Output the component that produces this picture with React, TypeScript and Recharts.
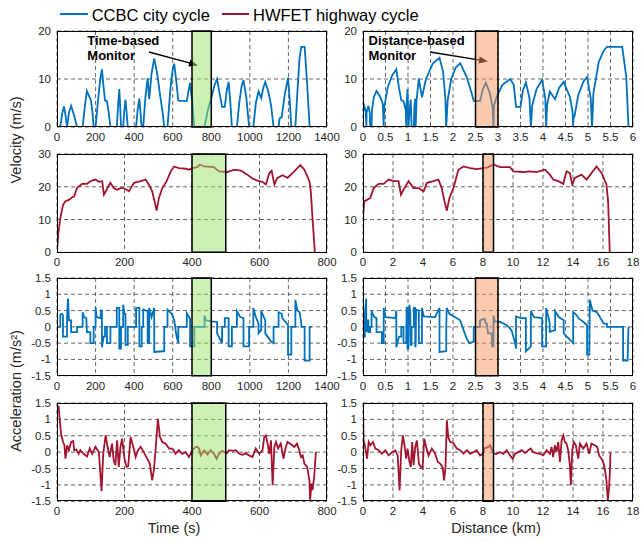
import { LineChart, Line, XAxis, YAxis, CartesianGrid, ReferenceArea } from 'recharts'

const BLUE = '#0072BD'
const RED = '#A2142F'
const FONT = '"Liberation Sans", Arial, Helvetica, sans-serif'

// CCBC city cycle, velocity vs time
const ccbcTime = [0, 17, 27, 36, 44, 52, 62, 73, 88, 104, 133, 145, 155, 166, 176, 184, 190, 200, 215, 226, 233, 241, 249, 259, 268, 277, 310, 317, 323, 328, 332, 343, 349, 355, 361, 367, 410, 418, 427, 433, 439, 447, 458, 470, 478, 490, 504, 520, 535, 548, 556, 573, 588, 600, 608, 620, 629, 673, 682, 690, 701, 712, 765, 772, 782, 800, 815, 830, 843, 856, 870, 880, 890, 899, 907, 933, 945, 957, 967, 982, 996, 1018, 1031, 1045, 1059, 1070, 1080, 1095, 1110, 1123, 1149, 1154, 1165, 1180, 1198, 1207, 1215, 1236, 1246, 1258, 1267, 1284, 1297, 1310, 1320]
const ccbcSpeed = [0, 0, 2.8, 4.3, 2.5, 0, 3, 4.4, 2.5, 0, 0, 4.5, 7.5, 6.5, 5.6, 3, 0, 0, 6.5, 10.5, 12, 8.5, 5.5, 5.4, 3, 0, 0, 4.5, 7.9, 4, 0, 0, 3.5, 5.7, 3, 0, 0, 3.5, 5.9, 3, 0, 0, 6, 10.2, 5.8, 11, 14.3, 11, 6.5, 3, 0, 0, 8, 12, 13.2, 9, 5.5, 5.4, 7.5, 9.2, 5.5, 0, 0, 1.5, 3.5, 6, 8.5, 10, 7, 4.2, 4.2, 7.5, 9.4, 5, 0, 0, 5, 8.5, 9.8, 6, 0, 0, 5, 7.4, 6, 8.2, 9.4, 7.5, 4.5, 0, 0, 1.8, 2, 6.5, 10.3, 5.5, 0, 0, 7, 14.5, 16.7, 16.7, 9, 0, 0]

// CCBC city cycle, velocity vs distance
const ccbcDist = [0, 0.005, 0.03, 0.06, 0.075, 0.08, 0.12, 0.15, 0.16, 0.19, 0.2, 0.24, 0.3, 0.38, 0.44, 0.46, 0.47, 0.55, 0.65, 0.74, 0.8, 0.85, 0.9, 0.95, 0.96, 0.97, 0.99, 1.0, 1.01, 1.04, 1.06, 1.07, 1.08, 1.13, 1.14, 1.16, 1.17, 1.19, 1.24, 1.31, 1.4, 1.55, 1.7, 1.78, 1.83, 1.85, 1.88, 1.96, 2.06, 2.16, 2.3, 2.4, 2.46, 2.6, 2.67, 2.73, 2.82, 2.88, 2.9, 2.91, 2.98, 3.1, 3.27, 3.35, 3.4, 3.5, 3.55, 3.62, 3.7, 3.73, 3.76, 3.86, 3.98, 4.05, 4.07, 4.09, 4.15, 4.27, 4.36, 4.46, 4.6, 4.66, 4.67, 4.675, 4.7, 4.78, 4.9, 4.98, 5.06, 5.09, 5.12, 5.24, 5.35, 5.42, 5.76, 5.85, 5.9]
const ccbcDistSpeed = [0, 3.2, 4.3, 3.4, 0, 3, 4.4, 3, 0, 0, 3.5, 6.2, 7.5, 6.3, 4.8, 0, 4, 8.3, 10.8, 12, 8.2, 5.6, 5.4, 3.5, 0, 5, 7.9, 4, 0, 4, 5.7, 3, 0, 0, 4, 5.9, 0, 5.5, 10.1, 6.2, 10, 13.2, 14.4, 11.5, 6, 0, 5.5, 10, 12.4, 13.3, 10.5, 7.5, 5.5, 5.4, 8, 9.2, 7, 4, 0, 4.5, 6.5, 8.8, 10, 8.8, 4.2, 4.2, 7.5, 9.3, 6, 0, 4.5, 8, 9.8, 6, 0, 4.5, 7.4, 5.8, 8.2, 9.4, 6.2, 3, 0, 1.8, 2.2, 6.5, 9.5, 10.4, 6, 0, 7, 13.6, 15.9, 16.7, 16.7, 10.5, 0]

// HWFET highway cycle, velocity vs time
const hwyTime = [0, 4, 10, 18, 25, 35, 45, 51, 59, 74, 89, 99, 114, 124, 134, 139, 147, 158, 168, 178, 188, 198, 213, 228, 248, 262, 272, 282, 289, 295, 302, 312, 325, 337, 347, 361, 381, 391, 401, 416, 423, 436, 465, 480, 505, 525, 545, 564, 579, 594, 609, 619, 629, 636, 644, 653, 668, 683, 703, 721, 733, 748, 752, 757, 764]
const hwySpeed = [0, 6, 10.5, 14.5, 15.6, 16, 16.8, 17, 19.6, 20.9, 20.9, 21.7, 22.2, 21.5, 21.7, 17.6, 19.1, 21.2, 19.6, 19.1, 19.6, 19.6, 18.6, 21.2, 21.7, 22.2, 20.7, 18.6, 15.6, 12.7, 16.6, 19.6, 21.7, 24.7, 26.2, 25.7, 25.5, 25.2, 25.7, 26, 26.8, 26.2, 26, 24.7, 24.5, 25.2, 24.9, 23.7, 22.5, 21.9, 21.5, 20.7, 24.2, 24.9, 20.7, 22.7, 23.5, 22.7, 24.7, 26.6, 25.2, 21.7, 18.6, 10.5, 0]

// HWFET highway cycle, velocity vs distance
const hwyDist = [0, 0.02, 0.09, 0.27, 0.49, 0.71, 1.04, 1.37, 1.71, 2.04, 2.37, 2.53, 2.7, 3.04, 3.37, 3.7, 4.04, 4.26, 4.7, 5.03, 5.25, 5.41, 5.59, 5.76, 6.03, 6.36, 6.7, 7.14, 7.58, 8.03, 8.36, 8.69, 9.14, 9.8, 10.02, 10.69, 11.13, 11.57, 12.13, 12.46, 12.68, 13.02, 13.35, 13.57, 13.79, 13.95, 14.12, 14.57, 14.9, 15.57, 15.9, 16.23, 16.34, 16.45]
const hwyDistSpeed = [0, 12, 15.6, 16, 16.6, 19.6, 20.9, 20.9, 22.2, 21.7, 21.7, 17.6, 19.1, 21.7, 19.6, 19.6, 18.6, 21.2, 21.7, 22.2, 19.6, 16, 12.7, 16.6, 19.6, 25.2, 26.2, 25.7, 25.4, 25.7, 26, 26.8, 26, 26, 24.7, 24.5, 24.7, 24.5, 25.2, 23.7, 22.2, 21.7, 20.9, 24.7, 24.2, 20.7, 22.7, 23.7, 22.2, 26.2, 24.2, 20.7, 15.6, 0]

// CCBC acceleration vs time
const ccbcAccTime = [0, 17, 17, 26, 31, 31, 52, 52, 57, 62, 73, 73, 104, 104, 133, 133, 140, 152, 155, 173, 173, 190, 190, 200, 200, 205, 225, 228, 233, 233, 242, 249, 249, 259, 259, 277, 277, 310, 310, 323, 323, 332, 332, 343, 343, 350, 355, 355, 367, 367, 410, 410, 427, 427, 439, 439, 447, 447, 462, 470, 470, 478, 478, 490, 504, 504, 548, 556, 556, 573, 573, 595, 608, 620, 629, 629, 673, 673, 690, 690, 712, 712, 765, 765, 772, 800, 830, 830, 856, 856, 870, 870, 890, 890, 907, 907, 933, 933, 950, 967, 967, 996, 996, 1018, 1018, 1031, 1045, 1045, 1059, 1059, 1080, 1080, 1110, 1123, 1123, 1149, 1149, 1165, 1170, 1185, 1198, 1198, 1215, 1215, 1236, 1236, 1246, 1258, 1267, 1267, 1284, 1284, 1310, 1310, 1320]
const ccbcAcc = [0, 0, 0.38, 0.4, 0.35, -0.3, -0.3, 0.3, 0.87, 0.2, 0.2, -0.16, -0.16, 0, 0, 0.45, 0.3, 0.27, -0.16, -0.16, -0.5, -0.5, 0, 0, 0.6, 0.3, 0.27, 0.5, 0.5, -0.63, -0.3, -0.3, 0, 0, -0.5, -0.5, 0, 0, 0.58, 0.58, -0.67, -0.67, 0, 0, 0.68, 0.4, 0.4, -0.55, -0.55, 0, 0, 0.58, 0.58, -0.6, -0.6, 0, 0, 0.53, 0.5, 0.5, -0.5, -0.5, 0.58, 0.3, 0.58, -0.77, -0.75, -0.75, 0, 0, 0.53, 0.4, 0.2, -0.3, -0.5, 0, 0, 0.42, 0.25, -0.6, -0.6, 0, 0, 0.35, 0.2, 0.17, 0.15, -0.2, -0.5, 0, 0, 0.27, 0.27, -0.6, -0.6, 0, 0, 0.48, 0.3, 0.27, -0.6, -0.6, 0, 0, 0.58, 0.3, 0.1, -0.2, -0.1, 0.48, 0.2, -0.2, -0.45, -0.5, 0, 0, 0.45, 0.4, 0.25, 0.15, 0.05, -0.85, -0.85, 0, 0, 0.83, 0.5, 0.45, 0.1, 0, 0, -1.04, -1.04, 0, 0]

// CCBC acceleration vs distance
const ccbcAccDist = [0, 0.01, 0.01, 0.04, 0.04, 0.07, 0.075, 0.1, 0.12, 0.12, 0.16, 0.16, 0.19, 0.19, 0.25, 0.3, 0.3, 0.42, 0.42, 0.46, 0.46, 0.5, 0.72, 0.74, 0.74, 0.8, 0.85, 0.85, 0.9, 0.9, 0.96, 0.97, 0.99, 0.99, 1.01, 1.01, 1.03, 1.05, 1.06, 1.08, 1.08, 1.13, 1.13, 1.16, 1.16, 1.17, 1.18, 1.24, 1.24, 1.31, 1.31, 1.35, 1.6, 1.7, 1.7, 1.85, 1.85, 1.86, 1.92, 2.16, 2.3, 2.36, 2.46, 2.46, 2.6, 2.6, 2.7, 2.73, 2.75, 2.78, 2.86, 2.87, 2.9, 2.9, 2.93, 3.05, 3.2, 3.3, 3.38, 3.4, 3.4, 3.5, 3.62, 3.62, 3.73, 3.73, 3.8, 3.98, 3.98, 4.07, 4.07, 4.12, 4.15, 4.15, 4.27, 4.27, 4.35, 4.46, 4.46, 4.6, 4.67, 4.67, 4.72, 4.8, 4.9, 4.98, 4.98, 5.03, 5.04, 5.1, 5.2, 5.35, 5.42, 5.42, 5.78, 5.78, 5.88, 5.9]
const ccbcAccD = [0.37, 0.37, -0.3, -0.3, 0.3, 0.87, -0.16, 0.2, 0.2, -0.16, -0.16, 0, 0, 0.48, 0.3, 0.27, -0.16, -0.16, -0.5, -0.5, 0.58, 0.3, 0.27, 0.5, -0.63, -0.3, -0.3, 0, 0, -0.5, -0.5, 0.58, 0.58, -0.67, -0.67, 0, 0.68, 0.45, -0.55, -0.55, 0, 0, 0.58, 0.58, -0.6, -0.6, 0.53, 0.5, -0.5, -0.5, 0.58, 0.32, 0.3, 0.58, -0.77, -0.75, 0, 0.58, 0.4, 0.2, -0.35, -0.5, -0.45, 0, 0, 0.2, 0.25, 0.1, 0.1, -0.2, -0.2, -0.6, -0.6, 0.35, 0.17, 0.15, 0.05, -0.1, -0.5, -0.67, 0.32, 0.27, 0.27, -0.75, -0.6, 0.48, 0.3, 0.27, -0.6, -0.6, 0.58, 0.3, 0.1, -0.15, -0.1, 0.48, 0.3, 0.2, -0.2, -0.4, -0.5, 0.45, 0.4, 0.25, 0.15, 0.05, -0.85, -0.85, 0.83, 0.5, 0.45, 0.1, 0.1, 0, 0, -1.04, -1.04, 0]

// HWFET acceleration vs time
const hwyAccTime = [0, 5, 8, 12, 18, 22, 25, 30, 35, 42, 48, 51, 57, 64, 69, 79, 89, 97, 104, 114, 124, 132, 137, 144, 149, 156, 163, 168, 173, 178, 183, 188, 193, 200, 206, 211, 218, 226, 233, 240, 248, 257, 267, 275, 282, 287, 292, 299, 305, 312, 322, 332, 342, 351, 361, 371, 381, 391, 401, 411, 416, 421, 426, 436, 446, 455, 465, 473, 480, 490, 503, 510, 520, 530, 540, 550, 559, 569, 579, 589, 599, 609, 614, 619, 624, 629, 634, 639, 644, 649, 655, 663, 671, 678, 683, 693, 703, 711, 718, 723, 728, 733, 741, 748, 750, 754, 757, 762, 767]
const hwyAcc = [1.43, 1.38, 1.02, 0.56, 0.31, 0.21, -0.2, 0.21, 0.06, 0.31, 0.34, 0.06, 0.08, -0.05, 0.06, -0.05, -0.13, 0.11, -0.05, 0.16, 0, -1.19, -0.05, 0.51, 0.21, -0.15, 0.26, -0.25, -0.4, 0.36, -0.45, 0.16, 0.41, -0.2, -0.45, -0.43, 0.46, 0.16, -0.15, 0.06, 0.16, 0, -0.2, -0.35, -0.86, -0.55, 0.06, 1.02, 0.46, 0.31, 0.26, 0.11, 0.11, -0.05, 0.06, -0.05, 0, -0.15, 0.06, 0.16, 0.16, 0.11, -0.1, 0.06, -0.07, 0.06, -0.05, -0.2, -0.05, 0.04, -0.03, 0.06, 0.04, 0.06, -0.05, -0.08, -0.03, -0.1, -0.15, 0.11, -0.05, 0.06, 0.46, 0.51, 0.26, -0.05, 0.36, -1.01, 0.16, 0.31, 0.11, 0.26, -0.2, 0.16, 0.31, 0.24, 0.16, 0.26, 0.06, -0.15, -0.1, -0.35, -0.45, -0.86, -1.47, -0.96, -1.16, -0.76, 0]

// HWFET acceleration vs distance
const hwyAccDist = [0, 0.04, 0.1, 0.18, 0.27, 0.38, 0.49, 0.67, 0.82, 1.04, 1.26, 1.49, 1.71, 1.93, 2.15, 2.31, 2.44, 2.55, 2.66, 2.77, 2.88, 2.97, 3.1, 3.19, 3.28, 3.37, 3.48, 3.59, 3.73, 3.86, 3.97, 4.08, 4.21, 4.37, 4.59, 4.81, 4.99, 5.14, 5.3, 5.41, 5.5, 5.59, 5.68, 5.81, 6.03, 6.25, 6.47, 6.7, 6.92, 7.14, 7.36, 7.58, 7.8, 7.98, 8.1, 8.36, 8.47, 8.6, 8.74, 8.91, 9.14, 9.36, 9.58, 9.8, 9.98, 10.13, 10.35, 10.58, 10.8, 11.02, 11.18, 11.35, 11.57, 11.8, 12.02, 12.24, 12.46, 12.57, 12.68, 12.79, 12.9, 13.02, 13.13, 13.24, 13.35, 13.46, 13.57, 13.68, 13.79, 13.86, 13.95, 14.06, 14.19, 14.35, 14.46, 14.68, 14.9, 15.08, 15.23, 15.45, 15.61, 15.74, 15.9, 16.01, 16.12, 16.23, 16.32, 16.41, 16.47, 16.5]
const hwyAccD = [1.43, 0.36, 0.26, 0.06, -0.2, 0.31, 0.21, 0.31, 0.11, 0.06, -0.05, 0.06, -0.1, 0, 0.06, -0.1, -1.17, 0.06, 0.51, 0.21, -0.2, 0.11, -0.3, -0.45, 0.31, -0.4, 0.16, 0.36, -0.35, -0.45, -0.5, 0.41, 0.16, -0.1, 0.11, -0.05, -0.3, -0.35, -0.45, -0.86, -0.45, 0.97, 0.46, 0.31, 0.28, 0.11, 0.06, -0.05, 0.06, -0.05, 0, 0.06, -0.1, -0.05, 0.11, 0.16, 0.21, 0.06, -0.05, -0.05, 0, -0.05, 0.06, -0.1, -0.2, -0.05, 0, 0.06, -0.03, 0.06, 0.11, 0, -0.03, -0.05, -0.1, 0.06, -0.05, 0.16, -0.15, 0.21, 0, 0.31, -0.3, 0.36, 0.51, 0.31, 0.26, 0.06, -0.4, -1.01, 0.06, 0.31, 0.21, -0.2, 0.26, 0.11, 0.26, -0.05, 0.26, 0.21, 0.16, -0.1, -0.2, -0.3, -0.5, -0.86, -1.47, -1.06, -0.5, 0]

// axes
const cityTimeTicks = [0, 200, 400, 600, 800, 1000, 1200, 1400]
const hwyTimeTicks = [0, 200, 400, 600, 800]
const cityDistTicks = [0, 0.5, 1, 1.5, 2, 2.5, 3, 3.5, 4, 4.5, 5, 5.5, 6]
const hwyDistTicks = [0, 2, 4, 6, 8, 10, 12, 14, 16, 18]
const citySpeedTicks = [0, 10, 20]
const hwySpeedTicks = [0, 10, 20, 30]
const accTicks = [-1.5, -1, -0.5, 0, 0.5, 1, 1.5]

// monitor windows
const timeWindowCity = [700, 800]
const timeWindowHwy = [400, 500]
const distWindowCity = [2.5, 3]
const distWindowHwy = [8, 8.7]

const zip = (xs: number[], ys: number[]) => xs.map((x, i) => ({ x, y: ys[i] }))

const LEFT_X = 56.5
const RIGHT_X = 362.7
const PLOT_W = 270
const rows = [
  { top: 30.7, h: 96 },
  { top: 154.4, h: 98.3 },
  { top: 278.3, h: 97.7 },
  { top: 402.7, h: 98.3 },
]

const tickStyle = { fontSize: 11.5, fill: '#262626', fontFamily: FONT }

function Panel({ left, row, data, color, xTicks, yTicks, band, bandFill }: any) {
  const YW = 40
  const { top, h } = rows[row]
  const xMax = xTicks[xTicks.length - 1]
  const yMin = yTicks[0]
  const yMax = yTicks[yTicks.length - 1]
  return (
    <div style={{ position: 'absolute', left: left - YW, top: top - 5 }}>
      <LineChart width={YW + PLOT_W + 14} height={5 + h + 22} data={data} margin={{ top: 5, right: 14, bottom: 0, left: 0 }}>
        <CartesianGrid stroke="#555" strokeDasharray="4 3" strokeWidth={0.9} />
        <XAxis dataKey="x" type="number" domain={[0, xMax]} ticks={xTicks} interval={0} height={22}
          tickSize={4} tickMargin={2} tickLine={false} axisLine={false} tick={tickStyle} allowDataOverflow />
        <YAxis type="number" domain={[yMin, yMax]} ticks={yTicks} interval={0} width={YW}
          tickSize={4} tickMargin={2} tickLine={false} axisLine={false} tick={tickStyle} allowDataOverflow />
        <Line dataKey="y" type="linear" stroke={color} strokeWidth={1.8} dot={false} isAnimationActive={false} />
        <ReferenceArea x1={band[0]} x2={band[1]} y1={yMin} y2={yMax} fill={bandFill} fillOpacity={0.5}
          stroke="#000" strokeWidth={1.5} zIndex={900} />
      </LineChart>
      <div style={{ position: 'absolute', left: YW, top: 5, width: PLOT_W, height: h, border: '1px solid #000', boxSizing: 'border-box', pointerEvents: 'none' }} />
    </div>
  )
}

function arrowHead(x1: number, y1: number, x2: number, y2: number) {
  const dx = x2 - x1
  const dy = y2 - y1
  const len = Math.hypot(dx, dy)
  const ux = dx / len
  const uy = dy / len
  const bx = x2 - ux * 9
  const by = y2 - uy * 9
  return `${x2},${y2} ${bx - uy * 3.5},${by + ux * 3.5} ${bx + uy * 3.5},${by - ux * 3.5}`
}

const GREEN = '#9be36a'
const ORANGE = '#f99560'

export default function App() {
  return (
    <div style={{ position: 'absolute', left: 0, top: 0, width: 641, height: 542, background: '#fff', fontFamily: FONT }}>
      <svg width={641} height={542} style={{ position: 'absolute', left: 0, top: 0 }}>
        <line x1={149} y1={52} x2={192} y2={63.6} stroke="#000" strokeWidth={1.3} />
        <polygon points={arrowHead(149, 52, 198, 65.5)} fill="#000" />
        <line x1={430} y1={52} x2={480} y2={60.2} stroke="#000" strokeWidth={1.3} />
        <polygon points={arrowHead(430, 52, 488, 61.5)} fill="#000" />
      </svg>

      <Panel left={LEFT_X} row={0} data={zip(ccbcTime, ccbcSpeed)} color={BLUE} xTicks={cityTimeTicks} yTicks={citySpeedTicks} band={timeWindowCity} bandFill={GREEN} />
      <Panel left={RIGHT_X} row={0} data={zip(ccbcDist, ccbcDistSpeed)} color={BLUE} xTicks={cityDistTicks} yTicks={citySpeedTicks} band={distWindowCity} bandFill={ORANGE} />
      <Panel left={LEFT_X} row={1} data={zip(hwyTime, hwySpeed)} color={RED} xTicks={hwyTimeTicks} yTicks={hwySpeedTicks} band={timeWindowHwy} bandFill={GREEN} />
      <Panel left={RIGHT_X} row={1} data={zip(hwyDist, hwyDistSpeed)} color={RED} xTicks={hwyDistTicks} yTicks={hwySpeedTicks} band={distWindowHwy} bandFill={ORANGE} />
      <Panel left={LEFT_X} row={2} data={zip(ccbcAccTime, ccbcAcc)} color={BLUE} xTicks={cityTimeTicks} yTicks={accTicks} band={timeWindowCity} bandFill={GREEN} />
      <Panel left={RIGHT_X} row={2} data={zip(ccbcAccDist, ccbcAccD)} color={BLUE} xTicks={cityDistTicks} yTicks={accTicks} band={distWindowCity} bandFill={ORANGE} />
      <Panel left={LEFT_X} row={3} data={zip(hwyAccTime, hwyAcc)} color={RED} xTicks={hwyTimeTicks} yTicks={accTicks} band={timeWindowHwy} bandFill={GREEN} />
      <Panel left={RIGHT_X} row={3} data={zip(hwyAccDist, hwyAccD)} color={RED} xTicks={hwyDistTicks} yTicks={accTicks} band={distWindowHwy} bandFill={ORANGE} />

      <svg width={641} height={542} style={{ position: 'absolute', left: 0, top: 0, pointerEvents: 'none' }} fontFamily={FONT}>
        {/* legend */}
        <line x1={60} y1={14} x2={88} y2={14} stroke={BLUE} strokeWidth={2} />
        <text x={91.7} y={20.5} fontSize={16.5} fill="#000">CCBC city cycle</text>
        <line x1={222} y1={14} x2={249} y2={14} stroke={RED} strokeWidth={2} />
        <text x={253} y={20.5} fontSize={16.5} fill="#000">HWFET highway cycle</text>

        {/* annotations */}
        <text x={87.3} y={45} fontSize={13} fontWeight="bold" fill="#000">Time-based</text>
        <text x={87.3} y={59.5} fontSize={13} fontWeight="bold" fill="#000">Monitor</text>
        <text x={368.5} y={45} fontSize={13} fontWeight="bold" fill="#000">Distance-based</text>
        <text x={368.5} y={59.5} fontSize={13} fontWeight="bold" fill="#000">Monitor</text>

        {/* axis titles */}
        <text transform="translate(21,140) rotate(-90)" textAnchor="middle" fontSize={14.5} fill="#262626">Velocity (m/s)</text>
        <text transform="translate(21,391) rotate(-90)" textAnchor="middle" fontSize={14.5} fill="#262626">Acceleration (m/s²)</text>
        <text x={174} y={533} textAnchor="middle" fontSize={14.5} fill="#262626">Time (s)</text>
        <text x={496} y={533} textAnchor="middle" fontSize={14.5} fill="#262626">Distance (km)</text>
      </svg>
    </div>
  )
}
